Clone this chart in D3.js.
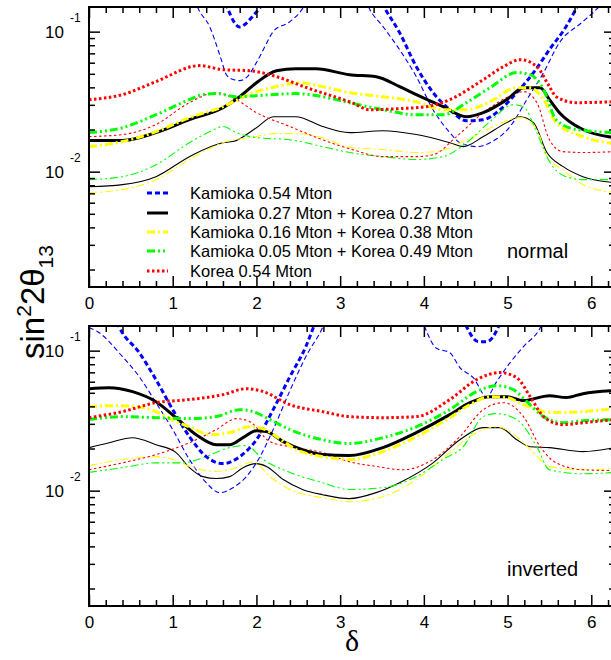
<!DOCTYPE html>
<html><head><meta charset="utf-8">
<script src="https://cdn.jsdelivr.net/npm/d3@7/dist/d3.min.js"></script>
<style>body{margin:0;background:#fff}svg{display:block}</style>
</head><body>
<svg id="chart" width="611" height="660"></svg>
<script>
// ---------- DATA ----------
const seriesNames = ["Kamioka 0.54 Mton","Kamioka 0.27 Mton + Korea 0.27 Mton","Kamioka 0.16 Mton + Korea 0.38 Mton","Kamioka 0.05 Mton + Korea 0.49 Mton","Korea 0.54 Mton"];
const seriesKeys = ["kam","k27","k16","k05","kor"];
const panelLabels = ["normal","inverted"];
const xTickValues = [0,1,2,3,4,5,6];
const yTickValues = [0.1,0.01];
const yTickLabels = ["-1","-2"];
const yDomain = [0.0015,0.15];

// normal hierarchy (top panel): [delta, sin^2 2theta13]; null = gap (curve off the chart)
const normalKamThick = [[1.6,0.18],[1.66,0.145],[1.73,0.118],[1.8,0.108],[1.88,0.115],[1.96,0.13],[2.04,0.148],[2.1,0.17],null,
  [3.45,0.18],[3.53,0.148],[3.71,0.0984],[3.91,0.0562],[4.11,0.0367],[4.31,0.0277],[4.51,0.0231],[4.71,0.0235],[4.91,0.0277],[5.11,0.0367],[5.31,0.051],[5.5,0.0744],[5.7,0.109],[5.82,0.146],[5.9,0.18]];
const normalKamThin = [[1.26,0.17],[1.3,0.148],[1.44,0.109],[1.58,0.0631],[1.64,0.0493],[1.72,0.0455],[1.8,0.0447],[1.88,0.0469],[2.0,0.0601],[2.1,0.078],[2.2,0.1],[2.4,0.118],[2.55,0.146],[2.6,0.165],null,
  [3.3,0.17],[3.35,0.146],[3.51,0.109],[3.71,0.0744],[3.91,0.0477],[4.11,0.0277],[4.31,0.019],[4.43,0.0161],[4.63,0.0151],[4.79,0.0161],[5.03,0.021],[5.23,0.0327],[5.43,0.051],[5.62,0.0835],[5.9,0.118],[6.06,0.144],[6.15,0.165]];
const normalK27Thick = [[0,0.0167],[0.4,0.0167],[0.8,0.019],[1.2,0.0235],[1.6,0.0286],[1.8,0.0343],[2.0,0.0432],[2.24,0.0526],[2.47,0.0544],[2.71,0.0544],[3.11,0.0493],[3.43,0.0477],[3.71,0.0405],[3.91,0.0355],[4.23,0.0291],[4.51,0.0247],[4.71,0.0264],[4.99,0.0327],[5.19,0.0398],[5.39,0.0398],[5.5,0.0327],[5.62,0.0264],[5.9,0.02],[6.28,0.0175]];
const normalK27Thin = [[0,0.00781],[0.4,0.00808],[0.8,0.00921],[1.2,0.0128],[1.6,0.0161],[1.72,0.0164],[2.0,0.0206],[2.2,0.0247],[2.47,0.0247],[2.79,0.021],[3.11,0.019],[3.51,0.0196],[3.91,0.0184],[4.31,0.0161],[4.47,0.0151],[4.71,0.0178],[4.99,0.0224],[5.15,0.0247],[5.31,0.0224],[5.47,0.0137],[5.66,0.0109],[5.9,0.00921],[6.28,0.00835]];
const normalK16Thick = [[0,0.0151],[0.4,0.0164],[0.8,0.0193],[1.2,0.0243],[1.6,0.0291],[1.8,0.0332],[2.0,0.0373],[2.24,0.0405],[2.51,0.0432],[2.79,0.0405],[3.11,0.0367],[3.51,0.0343],[3.91,0.0316],[4.23,0.0277],[4.51,0.0277],[4.79,0.0316],[5.11,0.0398],[5.27,0.0398],[5.43,0.0327],[5.58,0.0224],[5.9,0.0178],[6.28,0.0158]];
const normalK16Thin = [[0,0.00708],[0.4,0.00744],[0.8,0.00877],[1.2,0.0122],[1.6,0.0161],[2.0,0.0178],[2.2,0.0187],[2.47,0.0187],[2.79,0.0175],[3.11,0.0149],[3.51,0.0144],[3.91,0.0137],[4.15,0.0139],[4.51,0.0169],[4.83,0.021],[5.15,0.0243],[5.35,0.02],[5.47,0.0128],[5.66,0.0103],[5.9,0.00808],[6.28,0.00708]];
const normalK05Thick = [[0,0.019],[0.4,0.0206],[0.8,0.0255],[1.2,0.0327],[1.36,0.0355],[1.52,0.0361],[1.76,0.0343],[2.0,0.0349],[2.47,0.0361],[2.79,0.0343],[3.11,0.0311],[3.51,0.0277],[3.91,0.0255],[4.23,0.0255],[4.51,0.0311],[4.79,0.0398],[5.11,0.051],[5.27,0.0493],[5.43,0.0385],[5.58,0.0235],[5.82,0.02],[6.28,0.019]];
const normalK05Thin = [[0,0.00877],[0.4,0.00921],[0.8,0.0112],[1.2,0.0161],[1.44,0.0193],[1.6,0.021],[1.76,0.019],[2.0,0.0175],[2.4,0.0169],[2.79,0.0151],[3.11,0.0137],[3.51,0.0128],[3.91,0.0122],[4.23,0.0128],[4.51,0.0161],[4.79,0.0228],[5.07,0.0301],[5.19,0.0291],[5.35,0.019],[5.5,0.0118],[5.7,0.00921],[5.9,0.00877],[6.28,0.00877]];
const normalKorThick = [[0,0.0327],[0.4,0.0355],[0.8,0.044],[1.32,0.0572],[1.6,0.0535],[1.92,0.0526],[2.24,0.0477],[2.6,0.0398],[3.14,0.0311],[3.35,0.0277],[3.71,0.0282],[4.03,0.0291],[4.31,0.0327],[4.71,0.0454],[4.95,0.0562],[5.15,0.0631],[5.35,0.0562],[5.5,0.0405],[5.58,0.0343],[5.82,0.0311],[6.28,0.0316]];
const normalKorThin = [[0,0.0178],[0.4,0.0184],[0.8,0.0217],[1.2,0.0311],[1.52,0.0367],[1.76,0.0327],[2.0,0.0264],[2.4,0.021],[2.79,0.0169],[3.14,0.0144],[3.51,0.0128],[3.91,0.0128],[4.11,0.0132],[4.39,0.0178],[4.71,0.0264],[4.99,0.0338],[5.19,0.0373],[5.35,0.0311],[5.5,0.0169],[5.66,0.0139],[5.9,0.0137],[6.28,0.0139]];

// inverted hierarchy (bottom panel)
const invertedKamThick = [[0.3,0.18],[0.36,0.148],[0.6,0.0968],[0.8,0.0621],[1.0,0.0379],[1.2,0.0243],[1.4,0.0175],[1.6,0.0156],[1.8,0.0175],[2.0,0.0231],[2.2,0.0379],[2.4,0.0652],[2.59,0.107],[2.67,0.141],[2.72,0.17],null,
  [4.45,0.17],[4.51,0.148],[4.58,0.125],[4.65,0.116],[4.75,0.116],[4.82,0.124],[4.89,0.148],[4.93,0.17]];
const invertedKamThin = [[0,0.146],[0.1,0.137],[0.4,0.0906],[0.6,0.0652],[0.8,0.0425],[1.0,0.0273],[1.2,0.0167],[1.4,0.0114],[1.56,0.00968],[1.72,0.0105],[1.88,0.0126],[2.0,0.0158],[2.2,0.0273],[2.4,0.0518],[2.59,0.0906],[2.79,0.146],[2.84,0.17],null,
  [3.97,0.17],[4.01,0.148],[4.15,0.104],[4.31,0.0968],[4.43,0.0756],[4.59,0.0641],[4.75,0.0469],[4.87,0.0601],[5.03,0.0821],[5.19,0.107],[5.39,0.146],[5.44,0.17]];
const invertedK27Thick = [[0,0.0535],[0.24,0.0544],[0.52,0.051],[0.8,0.0432],[1.04,0.0332],[1.28,0.0251],[1.52,0.0213],[1.68,0.0213],[1.84,0.0239],[2.0,0.0268],[2.12,0.0264],[2.32,0.0224],[2.55,0.0196],[2.79,0.0181],[3.11,0.0178],[3.51,0.0203],[3.91,0.026],[4.31,0.0349],[4.55,0.0425],[4.79,0.0469],[4.99,0.0469],[5.19,0.044],[5.5,0.0477],[5.7,0.0462],[5.9,0.0493],[6.28,0.0518]];
const invertedK27Thin = [[0,0.0203],[0.24,0.022],[0.52,0.0239],[0.8,0.0213],[1.04,0.0187],[1.2,0.0146],[1.36,0.0126],[1.52,0.0122],[1.68,0.0126],[1.84,0.0146],[2.0,0.0156],[2.12,0.0149],[2.32,0.012],[2.55,0.0102],[2.79,0.00936],[3.11,0.00877],[3.43,0.00968],[3.71,0.0114],[4.11,0.0158],[4.43,0.0231],[4.71,0.0282],[4.91,0.0282],[5.11,0.0231],[5.27,0.0206],[5.5,0.0203],[5.9,0.019],[6.28,0.0203]];
const invertedK16Thick = [[0,0.0398],[0.32,0.0405],[0.64,0.0392],[0.88,0.0349],[1.04,0.0311],[1.2,0.0286],[1.44,0.0251],[1.68,0.026],[1.92,0.0286],[2.08,0.0277],[2.24,0.0243],[2.48,0.0196],[2.79,0.0175],[3.11,0.0167],[3.51,0.019],[3.91,0.0243],[4.31,0.0332],[4.55,0.0411],[4.79,0.0469],[4.99,0.0462],[5.19,0.0411],[5.35,0.0379],[5.5,0.0361],[5.9,0.0367],[6.28,0.0385]];
const invertedK16Thin = [[0,0.0151],[0.4,0.0167],[0.8,0.0175],[1.0,0.0167],[1.2,0.0149],[1.52,0.0137],[1.76,0.0146],[1.96,0.0161],[2.16,0.0126],[2.4,0.0102],[2.79,0.00891],[3.11,0.00835],[3.51,0.00906],[3.91,0.012],[4.31,0.0187],[4.63,0.026],[4.87,0.0286],[5.11,0.0243],[5.31,0.0187],[5.5,0.0149],[5.9,0.0141],[6.28,0.0144]];
const invertedK05Thick = [[0,0.0322],[0.4,0.0338],[0.8,0.0332],[1.2,0.0327],[1.52,0.0338],[1.8,0.0379],[1.96,0.0367],[2.16,0.0322],[2.4,0.0273],[2.79,0.0231],[3.11,0.0217],[3.51,0.0239],[3.91,0.0286],[4.31,0.0379],[4.63,0.051],[4.87,0.0562],[5.07,0.0526],[5.23,0.0432],[5.43,0.0338],[5.66,0.0306],[5.9,0.0316],[6.28,0.0322]];
const invertedK05Thin = [[0,0.0135],[0.4,0.0146],[0.8,0.0158],[1.12,0.0158],[1.4,0.0175],[1.68,0.0203],[1.88,0.021],[2.08,0.0167],[2.4,0.0135],[2.79,0.0114],[3.11,0.0102],[3.51,0.0105],[3.91,0.0126],[4.23,0.0167],[4.47,0.0206],[4.71,0.0338],[4.87,0.0355],[5.11,0.0322],[5.35,0.0206],[5.5,0.0141],[5.9,0.0132],[6.28,0.0135]];
const invertedKorThick = [[0,0.0332],[0.4,0.0367],[0.8,0.0425],[1.2,0.0447],[1.6,0.0485],[1.88,0.0535],[2.08,0.051],[2.4,0.0411],[2.79,0.0367],[3.11,0.0338],[3.51,0.0332],[3.91,0.0338],[4.31,0.0447],[4.63,0.0621],[4.91,0.0697],[5.11,0.0641],[5.27,0.0469],[5.43,0.0338],[5.66,0.0296],[5.9,0.0306],[6.28,0.0322]];
const invertedKorThin = [[0,0.0141],[0.4,0.0158],[0.8,0.0181],[1.2,0.022],[1.52,0.0273],[1.76,0.0327],[1.92,0.0311],[2.16,0.0224],[2.4,0.0206],[2.79,0.0187],[3.11,0.0161],[3.43,0.0149],[3.75,0.0141],[4.11,0.0167],[4.43,0.0243],[4.71,0.0379],[4.95,0.0425],[5.19,0.0338],[5.39,0.0206],[5.58,0.0158],[5.9,0.0141],[6.28,0.0139]];

// ---------- STYLES ----------
const styles = {
  kam:{color:"#0000ff", dash:"5,3"},
  k27:{color:"#000000", dash:null},
  k16:{color:"#ffff00", dash:"8,3,2,3"},
  k05:{color:"#00ff00", dash:"8,3,2,3,2,3"},
  kor:{color:"#ff0000", dash:"2.5,2.5"}
};
const thickW = 3, thinW = 1.1;

const panelData = [
  {kam:[normalKamThick,normalKamThin],k27:[normalK27Thick,normalK27Thin],k16:[normalK16Thick,normalK16Thin],k05:[normalK05Thick,normalK05Thin],kor:[normalKorThick,normalKorThin]},
  {kam:[invertedKamThick,invertedKamThin],k27:[invertedK27Thick,invertedK27Thin],k16:[invertedK16Thick,invertedK16Thin],k05:[invertedK05Thick,invertedK05Thin],kor:[invertedKorThick,invertedKorThin]}
];

// ---------- LAYOUT ----------
const svg = d3.select("#chart");
const L = 89, R = 615, PH = 280;
const panelTops = [7, 326];
const labelBaselines = [258, 576];
const x = d3.scaleLinear().domain([0, 2*Math.PI]).range([L, R]);
const xMinor = d3.range(0, 6.3, 0.2).map(v => +v.toFixed(1)).filter(v => !xTickValues.includes(v));
const font = "'Liberation Sans', Arial, Helvetica, sans-serif";

panelTops.forEach((top, pi) => {
  const y = d3.scaleLog().domain(yDomain).range([top + PH, top]);
  const yMinor = [];
  [0.001, 0.01, 0.1].forEach(dec => { for (let k = 2; k <= 9; k++) { const v = dec * k; if (v > yDomain[0] && v < yDomain[1]) yMinor.push(v); } });
  const g = svg.append("g");
  const clipId = "clip" + pi;
  g.append("clipPath").attr("id", clipId).append("rect")
    .attr("x", L).attr("y", top).attr("width", R - L).attr("height", PH);

  const line = d3.line().defined(d => d !== null).x(d => x(d[0])).y(d => y(d[1])).curve(d3.curveMonotoneX);
  const cg = g.append("g").attr("clip-path", `url(#${clipId})`);
  seriesKeys.forEach(key => {
    const st = styles[key];
    const [thick, thin] = panelData[pi][key];
    cg.append("path").datum(thin).attr("d", line).attr("fill", "none")
      .attr("stroke", st.color).attr("stroke-width", thinW).attr("stroke-dasharray", st.dash);
  });
  seriesKeys.forEach(key => {
    const st = styles[key];
    const [thick, thin] = panelData[pi][key];
    cg.append("path").datum(thick).attr("d", line).attr("fill", "none")
      .attr("stroke", st.color).attr("stroke-width", thickW).attr("stroke-dasharray", st.dash);
  });

  // axes (inward ticks)
  const axStyle = sel => { sel.select(".domain").remove(); sel.selectAll("line").attr("stroke", "#000").attr("stroke-width", 1.5); };
  g.append("g").attr("transform", `translate(0,${top + PH})`)
    .call(d3.axisBottom(x).tickValues(xTickValues).tickSize(-11).tickPadding(10).tickFormat(d3.format("d")))
    .call(axStyle).selectAll("text").attr("font-family", font).attr("font-size", 17).attr("fill", "#000");
  g.append("g").attr("transform", `translate(0,${top + PH})`)
    .call(d3.axisBottom(x).tickValues(xMinor).tickSize(-6).tickFormat("")).call(axStyle);
  g.append("g").attr("transform", `translate(0,${top})`)
    .call(d3.axisTop(x).tickValues(xTickValues).tickSize(-11).tickFormat("")).call(axStyle);
  g.append("g").attr("transform", `translate(0,${top})`)
    .call(d3.axisTop(x).tickValues(xMinor).tickSize(-6).tickFormat("")).call(axStyle);
  g.append("g").attr("transform", `translate(${L},0)`)
    .call(d3.axisLeft(y).tickValues(yTickValues).tickSize(-11).tickFormat("")).call(axStyle);
  g.append("g").attr("transform", `translate(${L},0)`)
    .call(d3.axisLeft(y).tickValues(yMinor).tickSize(-6).tickFormat("")).call(axStyle);
  g.append("g").attr("transform", `translate(${R},0)`)
    .call(d3.axisRight(y).tickValues(yTickValues).tickSize(-11).tickFormat("")).call(axStyle);
  g.append("g").attr("transform", `translate(${R},0)`)
    .call(d3.axisRight(y).tickValues(yMinor).tickSize(-6).tickFormat("")).call(axStyle);

  // y tick labels 10^-n
  yTickValues.forEach((v, i) => {
    g.append("text").attr("x", 64).attr("y", y(v)).attr("dy", "0.36em").attr("text-anchor", "end")
      .attr("font-family", font).attr("font-size", 17).text("10");
    g.append("text").attr("x", 70).attr("y", y(v) - 10).attr("text-anchor", "start")
      .attr("font-family", font).attr("font-size", 12).text(yTickLabels[i]);
  });

  // frame
  g.append("rect").attr("x", L).attr("y", top).attr("width", R - L).attr("height", PH)
    .attr("fill", "none").attr("stroke", "#000").attr("stroke-width", 2);

  g.append("text").attr("x", 507).attr("y", labelBaselines[pi]).attr("font-family", font)
    .attr("font-size", 20).text(panelLabels[pi]);
});

// legend (top panel)
const legendRows = [193, 213, 232, 251, 271];
const lg = svg.append("g");
seriesKeys.forEach((key, i) => {
  const st = styles[key];
  lg.append("line").attr("x1", 147).attr("x2", 168).attr("y1", legendRows[i]).attr("y2", legendRows[i])
    .attr("stroke", st.color).attr("stroke-width", thickW).attr("stroke-dasharray", st.dash);
  lg.append("text").attr("x", 190).attr("y", legendRows[i]).attr("dy", "0.36em")
    .attr("font-family", font).attr("font-size", 16.5).text(seriesNames[i]);
});

// axis titles
const yt = svg.append("text").attr("transform", "translate(44,302) rotate(-90)").attr("text-anchor", "middle")
  .attr("font-family", font).attr("font-size", 33);
yt.append("tspan").text("sin");
yt.append("tspan").attr("dy", -13).attr("font-size", 21).text("2");
yt.append("tspan").attr("dy", 13).text("2θ");
yt.append("tspan").attr("dy", 9).attr("font-size", 21).text("13");
svg.append("text").attr("x", 352).attr("y", 651).attr("text-anchor", "middle")
  .attr("font-family", "'Liberation Serif', 'Times New Roman', serif").attr("font-size", 30).text("δ");
</script>
</body></html>
